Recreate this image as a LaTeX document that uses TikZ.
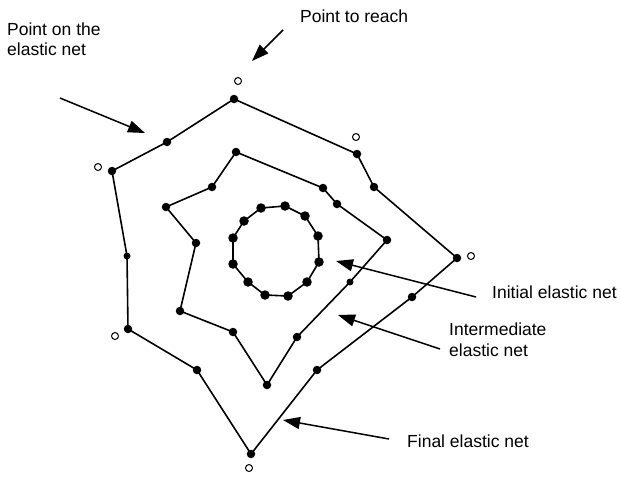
\documentclass[tikz,border=0pt]{standalone}
\usepackage{fontspec}
\setmainfont{Liberation Sans}
\usetikzlibrary{arrows.meta}
\begin{document}
\begin{tikzpicture}[x=1pt,y=-1pt,
  dot/.style={circle,fill=black,inner sep=0pt,minimum size=8.5pt},
  sdot/.style={circle,fill=black,inner sep=0pt,minimum size=7pt},
  cdot/.style={circle,fill=black,inner sep=0pt,minimum size=9.5pt},
  target/.style={circle,draw=black,line width=1pt,inner sep=0pt,minimum width=6pt,minimum height=7pt},
  net/.style={line width=1.6pt,line join=round},
  lbl/.style={font=\fontsize{17.5}{20}\selectfont,inner sep=0pt,anchor=base west},
  ptr/.style={line width=1.5pt,-{Triangle[length=17pt,width=12pt]}}]
\useasboundingbox[fill=white] (0,0) rectangle (621,477);

% final elastic net
\node[dot]  (f1)  at (234,99)  {};
\node[dot]  (f2)  at (167,142) {};
\node[dot]  (f3)  at (112,171) {};
\node[sdot] (f4)  at (127,256) {};
\node[dot]  (f5)  at (128,329) {};
\node[dot]  (f6)  at (197,370) {};
\node[dot]  (f7)  at (251,454) {};
\node[dot]  (f8)  at (317,370) {};
\node[dot]  (f9)  at (412,297) {};
\node[dot]  (f10) at (457,258) {};
\node[dot]  (f11) at (374,187) {};
\node[dot]  (f12) at (357,154) {};
\draw[net] (f1.center) -- (f2.center) -- (f3.center) -- (f4.center) -- (f5.center)
  -- (f6.center) -- (f7.center) -- (f8.center) -- (f9.center) -- (f10.center)
  -- (f11.center) -- (f12.center) -- cycle;

% intermediate elastic net
\node[dot]  (m1)  at (236,152) {};
\node[dot]  (m2)  at (323,188) {};
\node[dot]  (m3)  at (337,204) {};
\node[dot]  (m4)  at (387,240) {};
\node[sdot] (m5)  at (350,282) {};
\node[dot]  (m6)  at (297,337) {};
\node[dot]  (m7)  at (267,385) {};
\node[dot]  (m8)  at (233,332) {};
\node[dot]  (m9)  at (180,311) {};
\node[dot]  (m10) at (196,243) {};
\node[dot]  (m11) at (166,207) {};
\node[dot]  (m12) at (212,187) {};
\draw[net] (m1.center) -- (m2.center) -- (m3.center) -- (m4.center) -- (m5.center)
  -- (m6.center) -- (m7.center) -- (m8.center) -- (m9.center) -- (m10.center)
  -- (m11.center) -- (m12.center) -- cycle;

% initial elastic net
\node[cdot] (c1)  at (261,208) {};
\node[cdot] (c2)  at (285,206) {};
\node[cdot] (c3)  at (305,216) {};
\node[cdot] (c4)  at (318,236) {};
\node[cdot] (c5)  at (319,262) {};
\node[cdot] (c6)  at (307,282) {};
\node[cdot] (c7)  at (288,296) {};
\node[cdot] (c8)  at (265,295) {};
\node[cdot] (c9)  at (248,282) {};
\node[cdot] (c10) at (233,264) {};
\node[cdot] (c11) at (233,238) {};
\node[cdot] (c12) at (244,221) {};
\draw[net] (c1.center) -- (c2.center) -- (c3.center) -- (c4.center) -- (c5.center)
  -- (c6.center) -- (c7.center) -- (c8.center) -- (c9.center) -- (c10.center)
  -- (c11.center) -- (c12.center) -- cycle;

% points to reach
\node[target] (t1) at (238,81)  {};
\node[target] (t2) at (98,167)  {};
\node[target] (t3) at (356,137) {};
\node[target] (t4) at (471,256) {};
\node[target] (t5) at (115,336) {};
\node[target] (t6) at (249,468) {};

% labels
\node[lbl] (lreach) at (300,22) {Point to reach};
\node[lbl,align=left] (lpoint) at (7,55) {Point on the\\[-0.5pt]elastic net};
\node[lbl] (linit) at (492,298) {Initial elastic net};
\node[lbl,align=left] (linter) at (449,356) {Intermediate\\[1pt]elastic net};
\node[lbl] (lfinal) at (407,447) {Final elastic net};

% arrows
\coordinate (a1s) at (283,30);  \coordinate (a1e) at (252,61);
\coordinate (a2s) at (60,98);   \coordinate (a2e) at (145,133);
\coordinate (a3s) at (476,297); \coordinate (a3e) at (336,261);
\coordinate (a4s) at (440,349); \coordinate (a4e) at (338,315);
\coordinate (a5s) at (389,439); \coordinate (a5e) at (283,420);
\draw[ptr] (a1s) -- (a1e);
\draw[ptr] (a2s) -- (a2e);
\draw[ptr] (a3s) -- (a3e);
\draw[ptr] (a4s) -- (a4e);
\draw[ptr] (a5s) -- (a5e);
\end{tikzpicture}
\end{document}
